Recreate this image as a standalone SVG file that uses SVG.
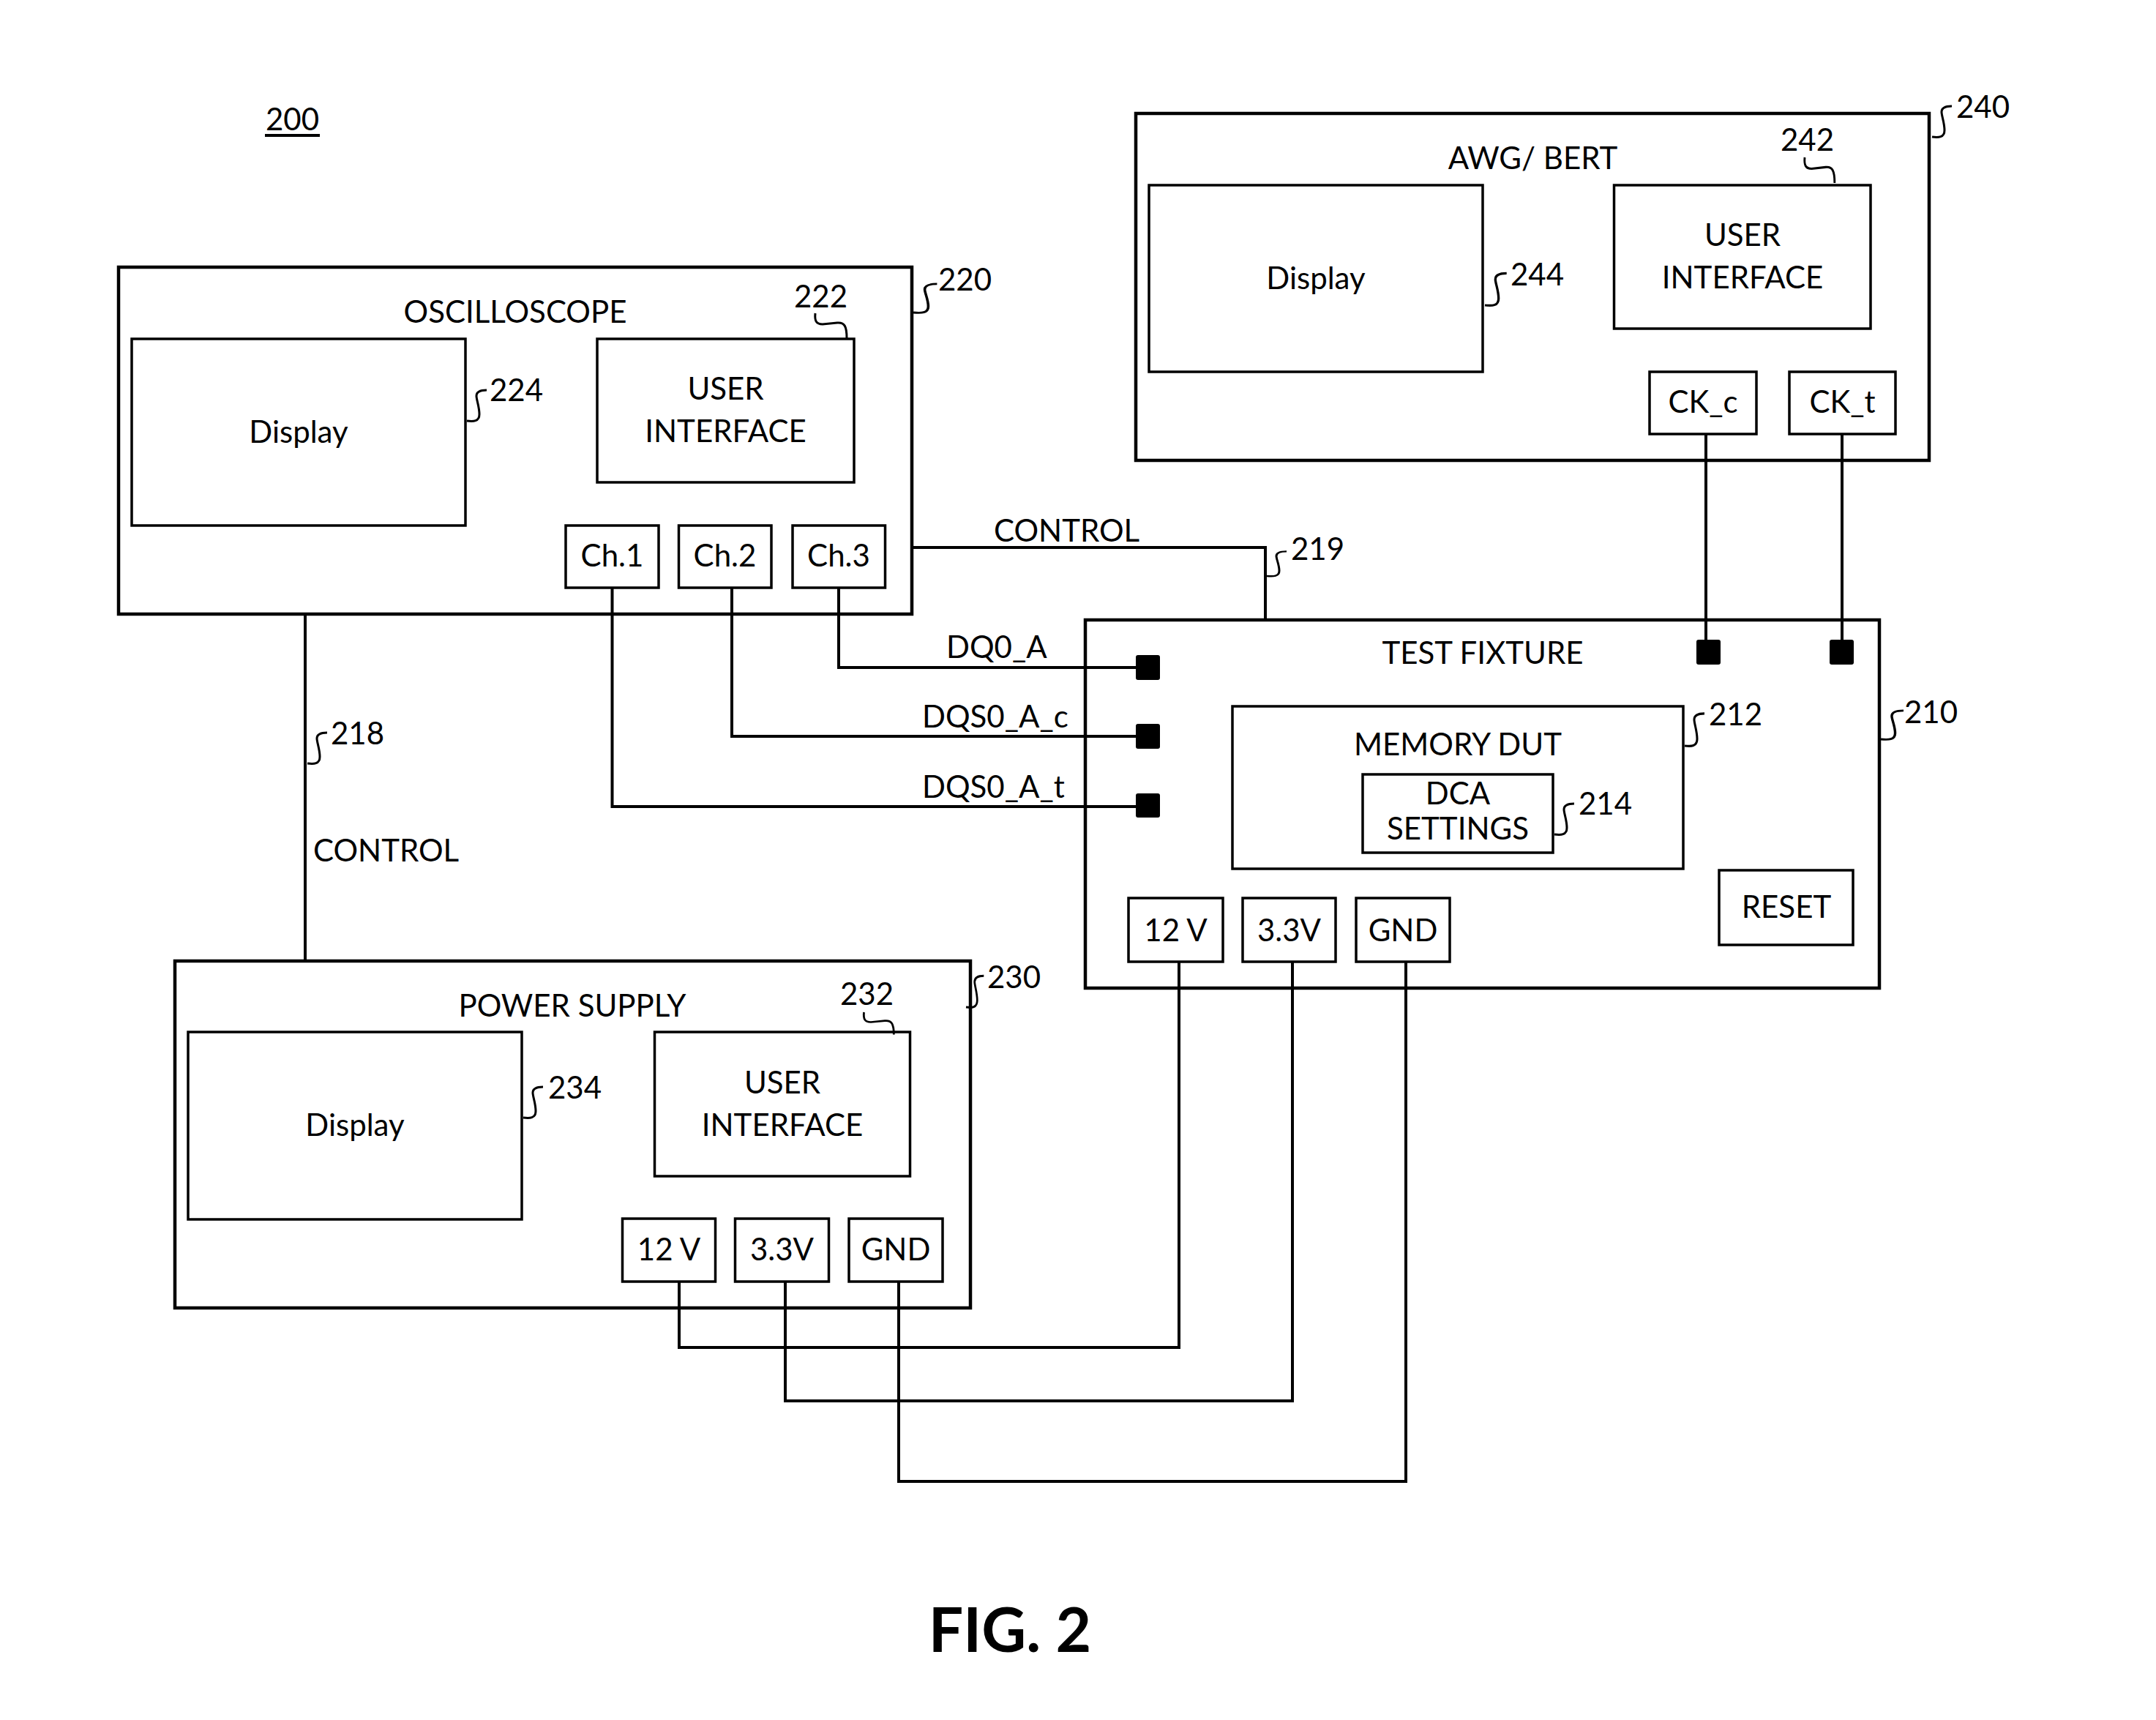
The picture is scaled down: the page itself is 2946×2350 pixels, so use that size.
<svg xmlns="http://www.w3.org/2000/svg" xmlns:xlink="http://www.w3.org/1999/xlink" width="2946" height="2350" viewBox="0 0 2946 2350">
<style>
.box{fill:none;stroke:#000;stroke-width:4.5}
.inner{fill:none;stroke:#000;stroke-width:3.5}
.wire{fill:none;stroke:#000;stroke-width:4}
.lead{fill:none;stroke:#000;stroke-width:3}
.pad{fill:#000}
.t{font-family:Lato,"Open Sans","Liberation Sans",sans-serif;font-size:42px;fill:#000}
.c{text-anchor:middle}
.fig{font-family:Lato,"Open Sans","Liberation Sans",sans-serif;font-size:84px;font-weight:bold;fill:#000;text-anchor:middle}
</style>
<defs>
<path id="sq" class="lead" d="M0,0 C9,1 17,1 17,-9 C17,-19 13,-29 13,-34 C13,-40 19,-42 27,-42"/>
<path id="sqd" class="lead" d="M0,0 C-1,10 1,15 10,15 L30,13 C40,12 43,18 43,34"/>
</defs>
<rect width="2946" height="2350" fill="#fff"/>

<g id="label200">
<text class="t" x="363" y="178">200</text>
<line x1="362" y1="185" x2="437" y2="185" stroke="#000" stroke-width="4"/>
</g>

<g id="connectors">
<polyline class="wire" points="417,839 417,1313"/>
<polyline class="wire" points="1246,748 1729,748 1729,847"/>
<polyline class="wire" points="1146,803 1146,912 1552,912"/>
<polyline class="wire" points="1000,803 1000,1006 1552,1006"/>
<polyline class="wire" points="836.5,803 836.5,1102 1552,1102"/>
<polyline class="wire" points="2331,593 2331,874"/>
<polyline class="wire" points="2517,593 2517,874"/>
<polyline class="wire" points="928,1751 928,1841 1611,1841 1611,1314"/>
<polyline class="wire" points="1073,1751 1073,1914 1766,1914 1766,1314"/>
<polyline class="wire" points="1228,1751 1228,2024 1921,2024 1921,1314"/>
<text class="t" x="1358" y="740">CONTROL</text>
<use xlink:href="#sq" href="#sq" transform="translate(1731,787) scale(1,0.8)"/>
<text class="t" x="1764" y="765">219</text>
<use xlink:href="#sq" href="#sq" transform="translate(420,1043)"/>
<text class="t" x="452" y="1017">218</text>
<text class="t" x="428" y="1177">CONTROL</text>
<text class="t" x="1293" y="899">DQ0_A</text>
<text class="t" x="1260" y="994">DQS0_A_c</text>
<text class="t" x="1260" y="1090">DQS0_A_t</text>
</g>

<g id="n220">
<rect class="box" x="162" y="365" width="1084" height="474"/>
<text class="t c" x="704" y="441">OSCILLOSCOPE</text>
<use xlink:href="#sq" href="#sq" transform="translate(1248,427) scale(1.2,0.93)"/>
<text class="t" x="1282" y="397">220</text>
</g>
<g id="n224">
<rect class="inner" x="180" y="463" width="456" height="255"/>
<text class="t c" x="408" y="605">Display</text>
<use xlink:href="#sq" href="#sq" transform="translate(638,575)"/>
<text class="t" x="669" y="548">224</text>
</g>
<g id="n222">
<rect class="inner" x="816" y="463" width="351" height="196"/>
<text class="t c" x="991.5" y="546">USER</text>
<text class="t c" x="991.5" y="604">INTERFACE</text>
<use xlink:href="#sqd" href="#sqd" transform="translate(1114,428)"/>
<text class="t" x="1085" y="420">222</text>
</g>
<g id="ch1"><rect class="inner" x="773" y="718" width="127" height="85"/><text class="t c" x="836.5" y="774">Ch.1</text></g>
<g id="ch2"><rect class="inner" x="927.5" y="718" width="126.5" height="85"/><text class="t c" x="990.5" y="774">Ch.2</text></g>
<g id="ch3"><rect class="inner" x="1083" y="718" width="126.5" height="85"/><text class="t c" x="1146" y="774">Ch.3</text></g>

<g id="n240">
<rect class="box" x="1552" y="155" width="1084" height="474"/>
<text class="t c" x="2094.5" y="231">AWG/ BERT</text>
<use xlink:href="#sq" href="#sq" transform="translate(2640,187)"/>
<text class="t" x="2673" y="161">240</text>
</g>
<g id="n244">
<rect class="inner" x="1570" y="253" width="456" height="255"/>
<text class="t c" x="1798" y="395">Display</text>
<use xlink:href="#sq" href="#sq" transform="translate(2029,417) scale(1.1,1.04)"/>
<text class="t" x="2064" y="390">244</text>
</g>
<g id="n242">
<rect class="inner" x="2205.5" y="253" width="350.5" height="196"/>
<text class="t c" x="2381" y="336">USER</text>
<text class="t c" x="2381" y="394">INTERFACE</text>
<use xlink:href="#sqd" href="#sqd" transform="translate(2466,215) scale(0.95,1.03)"/>
<text class="t" x="2433" y="206">242</text>
</g>
<g id="ckc"><rect class="inner" x="2254" y="508" width="146" height="85"/><text class="t c" x="2327" y="564">CK_c</text></g>
<g id="ckt"><rect class="inner" x="2445" y="508" width="145" height="85"/><text class="t c" x="2517.5" y="564">CK_t</text></g>

<g id="n210">
<rect class="box" x="1483" y="847" width="1085" height="503"/>
<text class="t c" x="2026" y="907">TEST FIXTURE</text>
<rect class="pad" x="1552" y="895" width="33" height="34" rx="3"/>
<rect class="pad" x="1552" y="989" width="33" height="34" rx="3"/>
<rect class="pad" x="1552" y="1084" width="33" height="33" rx="3"/>
<rect class="pad" x="2318" y="874" width="33" height="34" rx="3"/>
<rect class="pad" x="2500" y="874" width="33" height="34" rx="3"/>
<use xlink:href="#sq" href="#sq" transform="translate(2570,1010) scale(1.15,0.93)"/>
<text class="t" x="2602" y="988">210</text>
</g>
<g id="n212">
<rect class="inner" x="1684" y="965" width="616" height="222"/>
<text class="t c" x="1992" y="1032">MEMORY DUT</text>
<use xlink:href="#sq" href="#sq" transform="translate(2302,1019) scale(1,1.05)"/>
<text class="t" x="2335" y="991">212</text>
</g>
<g id="n214">
<rect class="inner" x="1862" y="1058" width="260" height="107"/>
<text class="t c" x="1992" y="1099">DCA</text>
<text class="t c" x="1992" y="1147">SETTINGS</text>
<use xlink:href="#sq" href="#sq" transform="translate(2124,1140)"/>
<text class="t" x="2157" y="1113">214</text>
</g>
<g id="reset"><rect class="inner" x="2349" y="1189" width="183" height="102"/><text class="t c" x="2441" y="1254">RESET</text></g>
<g id="tf12v"><rect class="inner" x="1542" y="1227" width="129" height="87"/><text class="t c" x="1606.5" y="1286">12 V</text></g>
<g id="tf33v"><rect class="inner" x="1698" y="1227" width="127" height="87"/><text class="t c" x="1761.5" y="1286">3.3V</text></g>
<g id="tfgnd"><rect class="inner" x="1853" y="1227" width="128" height="87"/><text class="t c" x="1917" y="1286">GND</text></g>

<g id="n230">
<rect class="box" x="239" y="1313" width="1087" height="474"/>
<text class="t c" x="782" y="1389">POWER SUPPLY</text>
<use xlink:href="#sq" href="#sq" transform="translate(1320,1376) scale(0.9,1.02)"/>
<text class="t" x="1349" y="1350">230</text>
</g>
<g id="n234">
<rect class="inner" x="257" y="1410" width="456" height="256"/>
<text class="t c" x="485" y="1552">Display</text>
<use xlink:href="#sq" href="#sq" transform="translate(715,1527)"/>
<text class="t" x="749" y="1501">234</text>
</g>
<g id="n232">
<rect class="inner" x="894.5" y="1410" width="349" height="197"/>
<text class="t c" x="1069" y="1494">USER</text>
<text class="t c" x="1069" y="1552">INTERFACE</text>
<use xlink:href="#sqd" href="#sqd" transform="translate(1180.5,1383) scale(0.95,0.9)"/>
<text class="t" x="1148" y="1373">232</text>
</g>
<g id="ps12v"><rect class="inner" x="850.5" y="1665" width="127" height="86"/><text class="t c" x="914" y="1722">12 V</text></g>
<g id="ps33v"><rect class="inner" x="1004.5" y="1665" width="128" height="86"/><text class="t c" x="1068.5" y="1722">3.3V</text></g>
<g id="psgnd"><rect class="inner" x="1160" y="1665" width="128" height="86"/><text class="t c" x="1224" y="1722">GND</text></g>

<text class="fig" x="1380" y="2257">FIG. 2</text>
</svg>
